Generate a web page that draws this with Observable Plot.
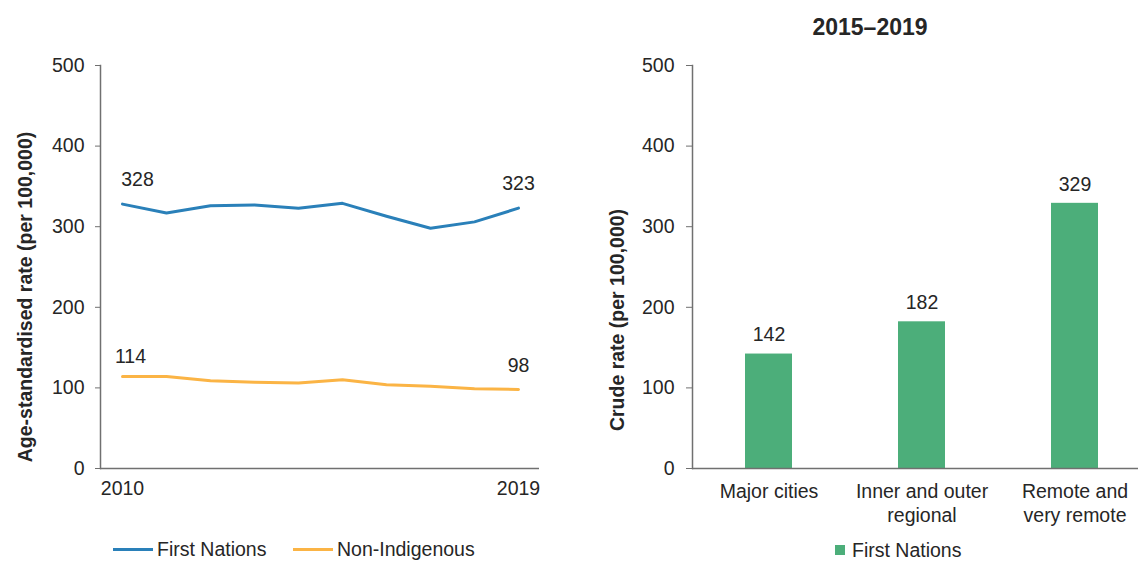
<!DOCTYPE html>
<html>
<head>
<meta charset="utf-8">
<script src="https://cdn.jsdelivr.net/npm/d3@7"></script>
<script src="https://cdn.jsdelivr.net/npm/@observablehq/plot@0.6"></script>
<style>
  html, body { margin: 0; padding: 0; background: #fff; overflow: hidden; }
  #wrap { position: relative; width: 1138px; height: 561px; overflow: hidden; font-family: "Liberation Sans", Arial, sans-serif; color: #262626; }
  .abs { position: absolute; }
  .title { font-weight: bold; font-size: 23px; white-space: nowrap; transform: translate(-50%, -50%); }
  .leg { font-size: 19.5px; line-height: 20px; white-space: nowrap; display: flex; align-items: center; transform: translateY(-50%); }
  .swline { width: 40px; height: 3px; margin-right: 4px; }
  .swsq { width: 10px; height: 10px; margin-right: 7px; }
</style>
</head>
<body>
<div id="wrap"></div>
<script>
// ---- Data ----
const years = [2010, 2011, 2012, 2013, 2014, 2015, 2016, 2017, 2018, 2019];
const firstNations = [328, 317, 326, 327, 323, 329, 313, 298, 306, 323];
const nonIndigenous = [114, 114, 109, 107, 106, 110, 104, 102, 99, 98];
const seriesNames = ["First Nations", "Non-Indigenous"];
const seriesColors = ["#2a80b9", "#fbb445"];

const regions = ["Major cities", "Inner and outer regional", "Remote and very remote"];
const regionTickLabels = ["Major cities", "Inner and outer\nregional", "Remote and\nvery remote"];
const regionRates = [142, 182, 329];
const barColor = "#4cae7a";

const yTicks = [0, 100, 200, 300, 400, 500];
const xTicks = [2010, 2019];
const leftYLabel = "Age-standardised rate (per 100,000)";
const rightYLabel = "Crude rate (per 100,000)";
const rightTitle = "2015–2019";

// ---- Tables ----
const lineData = [
  ...years.map((y, i) => ({year: y, value: firstNations[i], series: seriesNames[0]})),
  ...years.map((y, i) => ({year: y, value: nonIndigenous[i], series: seriesNames[1]}))
];
const fnFirst = lineData.filter(d => d.series === seriesNames[0] && d.year === years[0]);
const fnLast = lineData.filter(d => d.series === seriesNames[0] && d.year === years[years.length - 1]);
const niFirst = lineData.filter(d => d.series === seriesNames[1] && d.year === years[0]);
const niLast = lineData.filter(d => d.series === seriesNames[1] && d.year === years[years.length - 1]);
const barData = regions.map((r, i) => ({region: r, value: regionRates[i], tick: regionTickLabels[i]}));

const axisColor = "#707070";
const txt = "#262626";
const font = {fontFamily: "'Liberation Sans', Arial, sans-serif", fontSize: "19.5px", color: txt, background: "transparent", overflow: "visible"};

const wrap = document.getElementById("wrap");

// ---- Left chart ----
const left = Plot.plot({
  width: 560, height: 510,
  marginLeft: 100, marginRight: 21, marginTop: 65, marginBottom: 42,
  style: font,
  x: {domain: [years[0], years[years.length - 1]], insetLeft: 22, insetRight: 21},
  y: {domain: [0, 500]},
  color: {domain: seriesNames, range: seriesColors},
  marks: [
    Plot.ruleY([0], {stroke: axisColor, strokeWidth: 1.5}),
    Plot.frame({anchor: "left", stroke: axisColor, strokeWidth: 1.5}),
    Plot.axisY({ticks: yTicks, tickSize: 5, tickPadding: 11, label: null, stroke: axisColor, fill: txt}),
    Plot.axisX({ticks: xTicks, tickSize: 0, tickPadding: 13, tickFormat: d => String(d), label: null, fill: txt}),
    Plot.line(lineData, {x: "year", y: "value", stroke: "series", strokeWidth: 3}),
    Plot.text(fnFirst, {x: "year", y: "value", text: d => String(d.value), dx: 15, dy: -24, fill: txt}),
    Plot.text(fnLast, {x: "year", y: "value", text: d => String(d.value), dy: -24, fill: txt}),
    Plot.text(niFirst, {x: "year", y: "value", text: d => String(d.value), dx: 8, dy: -20, fill: txt}),
    Plot.text(niLast, {x: "year", y: "value", text: d => String(d.value), dy: -24, fill: txt}),
    Plot.text([leftYLabel], {frameAnchor: "left", textAnchor: "middle", rotate: -90, dx: -75, dy: 30, fontWeight: "bold", fill: txt})
  ]
});
left.style.position = "absolute";
left.style.left = "0px";
left.style.top = "0px";
wrap.appendChild(left);

// ---- Right chart ----
const right = Plot.plot({
  width: 600, height: 510,
  marginLeft: 132, marginRight: 8, marginTop: 65, marginBottom: 42,
  style: font,
  x: {domain: regions, paddingInner: 0.69, paddingOuter: 0.345},
  y: {domain: [0, 500]},
  marks: [
    Plot.barY(barData, {x: "region", y: "value", fill: barColor}),
    Plot.ruleY([0], {stroke: axisColor, strokeWidth: 1.5}),
    Plot.frame({anchor: "left", stroke: axisColor, strokeWidth: 1.5}),
    Plot.axisY({ticks: yTicks, tickSize: 6, tickPadding: 12, label: null, stroke: axisColor, fill: txt}),
    Plot.axisX({tickSize: 0, tickPadding: 13, lineHeight: 1.2, tickFormat: d => regionTickLabels[regions.indexOf(d)], label: null, fill: txt}),
    Plot.text(barData, {x: "region", y: "value", text: d => String(d.value), dy: -19, fill: txt}),
    Plot.text([rightYLabel], {frameAnchor: "left", textAnchor: "middle", rotate: -90, dx: -75, dy: 53, fontWeight: "bold", fill: txt})
  ]
});
right.style.position = "absolute";
right.style.left = "560px";
right.style.top = "0px";
wrap.appendChild(right);

// ---- Title ----
const t = document.createElement("div");
t.className = "abs title";
t.style.left = "870px";
t.style.top = "27px";
t.textContent = rightTitle;
wrap.appendChild(t);

// ---- Legends ----
function lineLegend(name, color, x) {
  const d = document.createElement("div");
  d.className = "abs leg";
  d.style.left = x + "px";
  d.style.top = "549px";
  const s = document.createElement("span");
  s.className = "swline";
  s.style.background = color;
  d.appendChild(s);
  d.appendChild(document.createTextNode(name));
  wrap.appendChild(d);
}
lineLegend(seriesNames[0], seriesColors[0], 113);
lineLegend(seriesNames[1], seriesColors[1], 293);

const rl = document.createElement("div");
rl.className = "abs leg";
rl.style.left = "835px";
rl.style.top = "550px";
const sq = document.createElement("span");
sq.className = "swsq";
sq.style.background = barColor;
rl.appendChild(sq);
rl.appendChild(document.createTextNode(seriesNames[0]));
wrap.appendChild(rl);
</script>
</body>
</html>
